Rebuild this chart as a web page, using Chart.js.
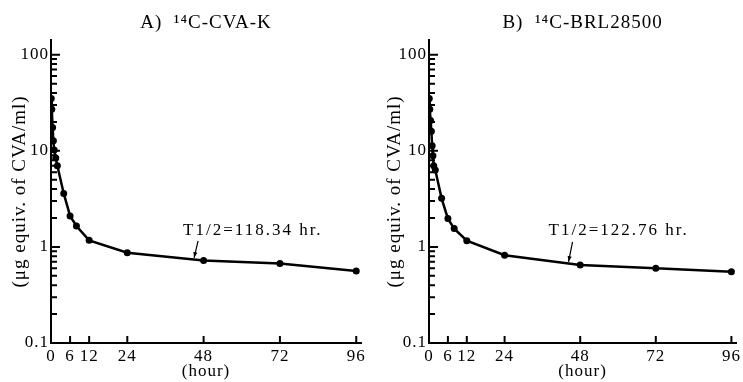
<!DOCTYPE html>
<html lang="ja">
<head>
<meta charset="UTF-8">
<title>14C-CVA-K / 14C-BRL28500 plasma levels</title>
<script src="https://cdn.jsdelivr.net/npm/chart.js"></script>
<style>
    body { margin: 0; background: #fff; }
    .wrap { position: absolute; top: 0; height: 382px; }
    #wa { left: 0; width: 370px; }
    #wb { left: 370px; width: 373px; }
</style>
</head>
<body>
<div class="wrap" id="wa"><canvas id="ca"></canvas></div>
<div class="wrap" id="wb"><canvas id="cb"></canvas></div>
<script>
const hourTicks = [0, 6, 12, 24, 48, 72, 96];
const decades = [0.1, 1, 10, 100];

const timesA  = [0.083, 0.25, 0.5, 0.75, 1, 1.5, 2, 4, 6, 8, 12, 24, 48, 72, 96];
const valuesA = [35, 27, 17.5, 12.7, 10.2, 8.4, 7.0, 3.6, 2.1, 1.65, 1.17, 0.87, 0.72, 0.67, 0.56];

const timesB  = [0.083, 0.25, 0.5, 0.75, 1, 1.25, 1.5, 2, 4, 6, 8, 12, 24, 48, 72, 96];
const valuesB = [35, 27, 20.7, 16, 11.3, 8.9, 7.0, 6.3, 3.2, 1.97, 1.55, 1.16, 0.82, 0.65, 0.60, 0.55];

const titleA = 'A)  \u00B9\u2074C-CVA-K';
const titleB = 'B)  \u00B9\u2074C-BRL28500';
const yTitle = '(\u03BCg equiv. of CVA/ml)';
const xTitle = '(hour)';
const noteA = 'T1/2=118.34 hr.';
const noteB = 'T1/2=122.76 hr.';
// where each arrow points: [hour, value]
const tipA = [45, 0.77];
const tipB = [44.3, 0.70];

const serif = '"Liberation Serif", "DejaVu Serif", serif';

// minor ticks 1..9 per decade, labels only on the decades
const logTicks = [];
decades.slice(0, -1).forEach(d => {
    for (let k = 1; k <= 9; k++) logTicks.push(Number((k * d).toPrecision(3)));
});
logTicks.push(decades[decades.length - 1]);

const isDecade = v => Math.abs(Math.log10(v) - Math.round(Math.log10(v))) < 1e-9;

function extras(o) {
    return {
        id: 'extras',
        // the print has loosely spaced type
        beforeDraw(chart) { chart.ctx.letterSpacing = '1px'; },
        afterDraw(chart) {
            const { ctx, scales: { x, y } } = chart;
            ctx.save();
            // tick marks point into the plot, like the printed figure
            ctx.strokeStyle = '#000';
            ctx.lineWidth = 2;
            ctx.beginPath();
            hourTicks.forEach(v => {
                const px = x.getPixelForValue(v);
                ctx.moveTo(px, x.top);
                ctx.lineTo(px, x.top - 7);
            });
            logTicks.forEach(v => {
                const py = y.getPixelForValue(v);
                ctx.moveTo(y.right, py);
                ctx.lineTo(y.right + (isDecade(v) ? 9 : 6), py);
            });
            ctx.stroke();

            // half-life note with arrow
            const tx = x.getPixelForValue(o.tip[0]);
            const ty = y.getPixelForValue(o.tip[1]);
            ctx.letterSpacing = '2px';
            ctx.fillStyle = '#000';
            ctx.font = '17px ' + serif;
            ctx.textAlign = 'left';
            ctx.textBaseline = 'middle';
            ctx.fillText(o.note, tx + o.dx, ty + o.dy);
            const sx = tx + o.ax, sy = ty + o.ay;
            ctx.lineWidth = 1.2;
            ctx.beginPath();
            ctx.moveTo(sx, sy);
            ctx.lineTo(tx, ty);
            ctx.stroke();
            const ang = Math.atan2(ty - sy, tx - sx);
            ctx.beginPath();
            ctx.moveTo(tx, ty);
            ctx.lineTo(tx - 6 * Math.cos(ang - 0.35), ty - 6 * Math.sin(ang - 0.35));
            ctx.lineTo(tx - 6 * Math.cos(ang + 0.35), ty - 6 * Math.sin(ang + 0.35));
            ctx.closePath();
            ctx.fill();
            ctx.restore();
        }
    };
}

function makeChart(id, o) {
    return new Chart(document.getElementById(id), {
        type: 'line',
        data: {
            datasets: [{
                data: o.times.map((t, i) => ({ x: t, y: o.values[i] })),
                borderColor: '#000',
                backgroundColor: '#000',
                borderWidth: 2.5,
                pointRadius: 3.5,
                pointBorderWidth: 0,
                tension: 0
            }]
        },
        options: {
            animation: false,
            responsive: true,
            maintainAspectRatio: false,
            layout: { padding: { left: 0, right: o.padRight, top: 0, bottom: 0 } },
            plugins: {
                legend: { display: false },
                tooltip: { enabled: false },
                title: {
                    display: true,
                    text: o.title,
                    fullSize: false,
                    color: '#000',
                    font: { family: serif, size: 19, weight: 'normal' },
                    padding: { top: 12, bottom: 5 }
                }
            },
            scales: {
                x: {
                    type: 'linear',
                    min: 0,
                    max: 97.5,
                    afterBuildTicks: s => { s.ticks = hourTicks.map(v => ({ value: v })); },
                    afterFit: s => { s.height = 39; },
                    grid: { display: false, drawTicks: false },
                    border: { display: true, color: '#000', width: 2 },
                    ticks: {
                        color: '#000',
                        font: { family: serif, size: 17 },
                        padding: 3,
                        maxRotation: 0,
                        autoSkip: false,
                        callback: v => String(v)
                    },
                    title: {
                        display: true,
                        text: xTitle,
                        color: '#000',
                        font: { family: serif, size: 17 },
                        padding: 0
                    }
                },
                y: {
                    type: 'logarithmic',
                    min: 0.1,
                    max: 143,
                    afterBuildTicks: s => { s.ticks = logTicks.map(v => ({ value: v })); },
                    afterFit: s => { s.width = o.yWidth; },
                    grid: { display: false, drawTicks: false },
                    border: { display: true, color: '#000', width: 2 },
                    ticks: {
                        color: '#000',
                        font: { family: serif, size: 17 },
                        padding: 2,
                        autoSkip: false,
                        callback: v => isDecade(v) ? String(v) : ''
                    },
                    title: {
                        display: true,
                        text: yTitle,
                        color: '#000',
                        font: { family: serif, size: 19 },
                        padding: { top: o.yTitlePad, bottom: 0 }
                    }
                }
            }
        },
        plugins: [extras(o)]
    });
}

makeChart('ca', {
    times: timesA, values: valuesA, title: titleA,
    yWidth: 51, padRight: 9, yTitlePad: 9,
    note: noteA, tip: tipA, dx: -11, dy: -27, ax: 4, ay: -17
});
makeChart('cb', {
    times: timesB, values: valuesB, title: titleB,
    yWidth: 59, padRight: 3, yTitlePad: 14,
    note: noteB, tip: tipB, dx: -20, dy: -31, ax: 4, ay: -20
});
</script>
</body>
</html>
